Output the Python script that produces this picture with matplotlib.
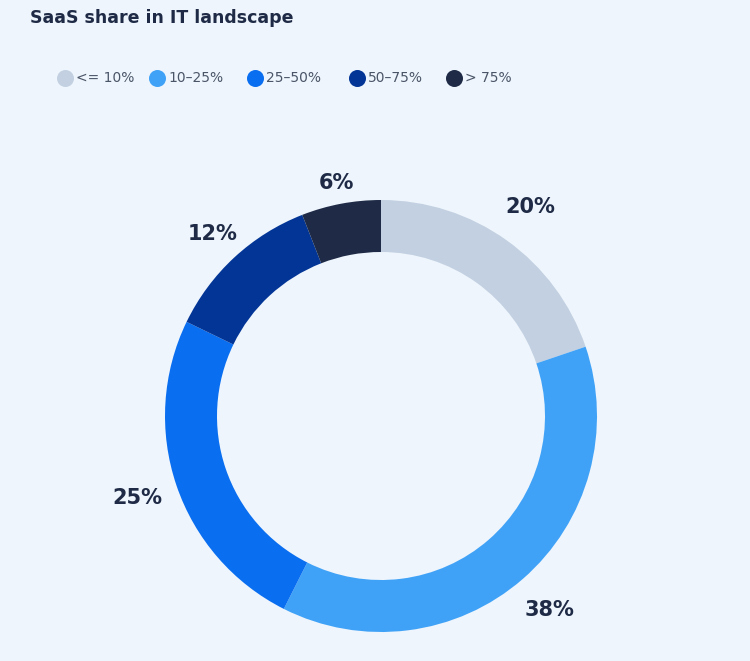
import numpy as np
import matplotlib.pyplot as plt

labels = ['<= 10%', '10–25%', '25–50%', '50–75%', '> 75%']
shares = [20, 38, 25, 12, 6]
colors = ['#C2D0E1', '#40A2F7', '#0A6EF0', '#023596', '#1F2B46']
bg = '#EEF5FC'

fig = plt.figure(figsize=(7.5, 6.61), dpi=100, facecolor=bg)

# donut, centre at (381, 416) px, outer radius 216 px
R = 216
ax = fig.add_axes([(381 - 250) / 750, (661 - 416 - 250) / 661, 500 / 750, 500 / 661])
ax.set_facecolor(bg)
wedges, _ = ax.pie(shares, colors=colors, startangle=90, counterclock=False,
                   wedgeprops=dict(width=52 / R, linewidth=0))
label_dist = [1.19, 1.19, 1.19, 1.15, 1.10]
for w, s, d in zip(wedges, shares, label_dist):
    mid = np.deg2rad((w.theta1 + w.theta2) / 2)
    ax.text(d * np.cos(mid), d * np.sin(mid), f'{s}%', fontsize=15,
            fontweight='bold', color='#1F2B46', ha='center', va='center')
ax.set_xlim(-250 / R, 250 / R)
ax.set_ylim(-250 / R, 250 / R)
ax.set_aspect('equal')
ax.axis('off')

fig.text(30 / 750, 1 - 18 / 661, 'SaaS share in IT landscape', fontsize=12.5,
         fontweight='bold', color='#1F2B46', va='center')

leg = fig.add_axes([0, 0, 1, 1], facecolor='none')
leg.set_xlim(0, 750)
leg.set_ylim(661, 0)
leg.axis('off')
xs = [65, 157, 255, 357, 454]
for x, lab, c in zip(xs, labels, colors):
    leg.scatter([x], [78], s=150, color=c, linewidths=0)
    leg.text(x + 11, 78, lab, fontsize=10, color='#4A5568', va='center')

fig.savefig('out.png', facecolor=bg)
